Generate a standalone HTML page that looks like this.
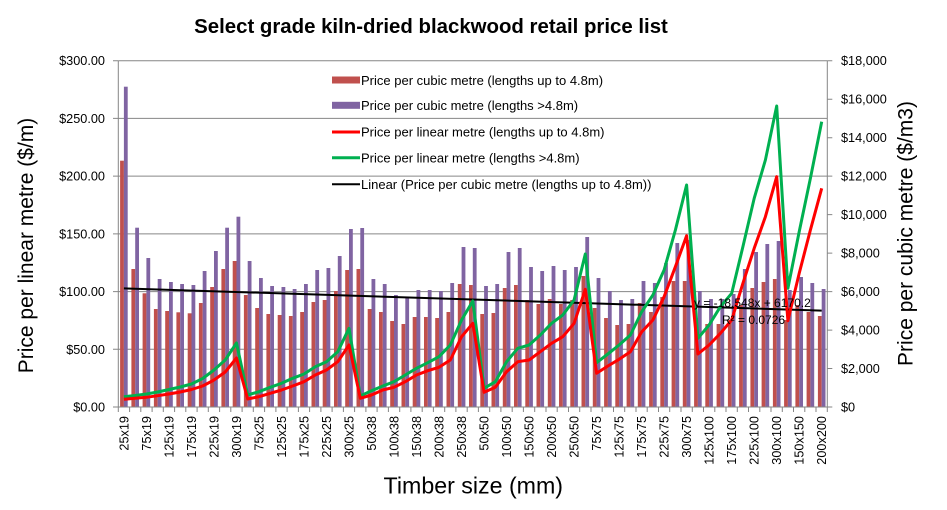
<!DOCTYPE html>
<html><head><meta charset="utf-8"><style>
html,body{margin:0;padding:0;background:#fff;}
svg{display:block;font-family:"Liberation Sans",Arial,sans-serif;}
</style></head><body>
<svg width="947" height="510" viewBox="0 0 947 510" xmlns="http://www.w3.org/2000/svg">
<rect width="947" height="510" fill="#fff"/>
<text x="431" y="33" font-size="20.4" font-weight="bold" text-anchor="middle" fill="#000">Select grade kiln-dried blackwood retail price list</text>
<!-- gridlines -->
<g stroke="#868686" stroke-width="1">
<line x1="118.3" y1="60.7" x2="827.3" y2="60.7"/>
<line x1="118.3" y1="118.4" x2="827.3" y2="118.4"/>
<line x1="118.3" y1="176.1" x2="827.3" y2="176.1"/>
<line x1="118.3" y1="233.9" x2="827.3" y2="233.9"/>
<line x1="118.3" y1="291.6" x2="827.3" y2="291.6"/>
<line x1="118.3" y1="349.3" x2="827.3" y2="349.3"/>
</g>
<!-- bars -->
<g fill="#C0504D">
<rect x="120.1" y="160.7" width="3.8" height="246.3"/><rect x="131.4" y="269" width="3.8" height="138"/><rect x="142.6" y="293.3" width="3.8" height="113.7"/><rect x="153.9" y="309" width="3.8" height="98"/><rect x="165.2" y="311" width="3.8" height="96"/><rect x="176.4" y="312.3" width="3.8" height="94.7"/><rect x="187.7" y="313.3" width="3.8" height="93.7"/><rect x="198.9" y="303" width="3.8" height="104"/><rect x="210.2" y="287" width="3.8" height="120"/><rect x="221.4" y="269" width="3.8" height="138"/><rect x="232.7" y="261" width="3.8" height="146"/><rect x="243.9" y="295" width="3.8" height="112"/><rect x="255.2" y="308" width="3.8" height="99"/><rect x="266.4" y="314" width="3.8" height="93"/><rect x="277.7" y="315" width="3.8" height="92"/><rect x="288.9" y="316" width="3.8" height="91"/><rect x="300.2" y="312" width="3.8" height="95"/><rect x="311.5" y="302" width="3.8" height="105"/><rect x="322.7" y="300" width="3.8" height="107"/><rect x="334.0" y="291" width="3.8" height="116"/><rect x="345.2" y="270" width="3.8" height="137"/><rect x="356.5" y="269" width="3.8" height="138"/><rect x="367.7" y="309" width="3.8" height="98"/><rect x="379.0" y="312" width="3.8" height="95"/><rect x="390.2" y="321" width="3.8" height="86"/><rect x="401.5" y="324" width="3.8" height="83"/><rect x="412.7" y="317" width="3.8" height="90"/><rect x="424.0" y="317" width="3.8" height="90"/><rect x="435.2" y="318" width="3.8" height="89"/><rect x="446.5" y="312" width="3.8" height="95"/><rect x="457.8" y="284" width="3.8" height="123"/><rect x="469.0" y="285" width="3.8" height="122"/><rect x="480.3" y="314" width="3.8" height="93"/><rect x="491.5" y="313" width="3.8" height="94"/><rect x="502.8" y="288" width="3.8" height="119"/><rect x="514.0" y="285" width="3.8" height="122"/><rect x="525.3" y="300" width="3.8" height="107"/><rect x="536.5" y="304" width="3.8" height="103"/><rect x="547.8" y="299" width="3.8" height="108"/><rect x="559.0" y="304" width="3.8" height="103"/><rect x="570.3" y="300" width="3.8" height="107"/><rect x="581.5" y="276" width="3.8" height="131"/><rect x="592.8" y="308" width="3.8" height="99"/><rect x="604.1" y="318" width="3.8" height="89"/><rect x="615.3" y="325" width="3.8" height="82"/><rect x="626.6" y="324" width="3.8" height="83"/><rect x="637.8" y="303" width="3.8" height="104"/><rect x="649.1" y="312" width="3.8" height="95"/><rect x="660.3" y="297" width="3.8" height="110"/><rect x="671.6" y="281" width="3.8" height="126"/><rect x="682.8" y="281" width="3.8" height="126"/><rect x="694.1" y="318" width="3.8" height="89"/><rect x="705.3" y="324" width="3.8" height="83"/><rect x="716.6" y="324" width="3.8" height="83"/><rect x="727.9" y="320" width="3.8" height="87"/><rect x="739.1" y="305" width="3.8" height="102"/><rect x="750.4" y="288" width="3.8" height="119"/><rect x="761.6" y="282" width="3.8" height="125"/><rect x="772.9" y="279" width="3.8" height="128"/><rect x="784.1" y="320" width="3.8" height="87"/><rect x="795.4" y="305" width="3.8" height="102"/><rect x="806.6" y="312" width="3.8" height="95"/><rect x="817.9" y="316" width="3.8" height="91"/>
</g>
<g fill="#8064A2">
<rect x="123.9" y="86.7" width="3.8" height="320.3"/><rect x="135.2" y="227.7" width="3.8" height="179.3"/><rect x="146.4" y="258" width="3.8" height="149"/><rect x="157.7" y="279" width="3.8" height="128"/><rect x="169.0" y="282" width="3.8" height="125"/><rect x="180.2" y="284" width="3.8" height="123"/><rect x="191.5" y="285" width="3.8" height="122"/><rect x="202.7" y="271" width="3.8" height="136"/><rect x="214.0" y="251" width="3.8" height="156"/><rect x="225.2" y="227.7" width="3.8" height="179.3"/><rect x="236.5" y="216.7" width="3.8" height="190.3"/><rect x="247.7" y="261" width="3.8" height="146"/><rect x="259.0" y="278" width="3.8" height="129"/><rect x="270.2" y="286" width="3.8" height="121"/><rect x="281.5" y="287" width="3.8" height="120"/><rect x="292.7" y="289" width="3.8" height="118"/><rect x="304.0" y="284" width="3.8" height="123"/><rect x="315.3" y="270" width="3.8" height="137"/><rect x="326.5" y="268" width="3.8" height="139"/><rect x="337.8" y="256" width="3.8" height="151"/><rect x="349.0" y="229" width="3.8" height="178"/><rect x="360.3" y="228" width="3.8" height="179"/><rect x="371.5" y="279" width="3.8" height="128"/><rect x="382.8" y="284" width="3.8" height="123"/><rect x="394.0" y="295" width="3.8" height="112"/><rect x="405.3" y="298" width="3.8" height="109"/><rect x="416.5" y="290" width="3.8" height="117"/><rect x="427.8" y="290" width="3.8" height="117"/><rect x="439.0" y="291" width="3.8" height="116"/><rect x="450.3" y="283" width="3.8" height="124"/><rect x="461.6" y="247" width="3.8" height="160"/><rect x="472.8" y="248" width="3.8" height="159"/><rect x="484.1" y="286" width="3.8" height="121"/><rect x="495.3" y="284" width="3.8" height="123"/><rect x="506.6" y="252" width="3.8" height="155"/><rect x="517.8" y="248" width="3.8" height="159"/><rect x="529.1" y="267" width="3.8" height="140"/><rect x="540.3" y="271" width="3.8" height="136"/><rect x="551.6" y="266" width="3.8" height="141"/><rect x="562.8" y="270" width="3.8" height="137"/><rect x="574.1" y="267" width="3.8" height="140"/><rect x="585.3" y="237" width="3.8" height="170"/><rect x="596.6" y="278" width="3.8" height="129"/><rect x="607.9" y="291" width="3.8" height="116"/><rect x="619.1" y="300" width="3.8" height="107"/><rect x="630.4" y="299" width="3.8" height="108"/><rect x="641.6" y="281" width="3.8" height="126"/><rect x="652.9" y="283" width="3.8" height="124"/><rect x="664.1" y="263" width="3.8" height="144"/><rect x="675.4" y="243" width="3.8" height="164"/><rect x="686.6" y="240" width="3.8" height="167"/><rect x="697.9" y="291" width="3.8" height="116"/><rect x="709.1" y="299" width="3.8" height="108"/><rect x="720.4" y="299" width="3.8" height="108"/><rect x="731.7" y="294" width="3.8" height="113"/><rect x="742.9" y="269" width="3.8" height="138"/><rect x="754.2" y="252" width="3.8" height="155"/><rect x="765.4" y="244" width="3.8" height="163"/><rect x="776.7" y="241" width="3.8" height="166"/><rect x="787.9" y="290" width="3.8" height="117"/><rect x="799.2" y="277" width="3.8" height="130"/><rect x="810.4" y="283" width="3.8" height="124"/><rect x="821.7" y="289" width="3.8" height="118"/>
</g>
<!-- axes -->
<g stroke="#868686" stroke-width="1" fill="none">
<line x1="118.3" y1="60.7" x2="118.3" y2="407"/>
<line x1="827.3" y1="60.7" x2="827.3" y2="407"/>
<line x1="118.3" y1="407" x2="827.3" y2="407"/>
<path d="M113 60.7h5.3M113 118.4h5.3M113 176.1h5.3M113 233.9h5.3M113 291.6h5.3M113 349.3h5.3M113 407h5.3"/>
<path d="M827.3 60.7h5M827.3 99.2h5M827.3 137.7h5M827.3 176.1h5M827.3 214.6h5M827.3 253.1h5M827.3 291.6h5M827.3 330.1h5M827.3 368.5h5M827.3 407h5"/>
<path d="M118.3 407v5M129.6 407v5M140.8 407v5M152.1 407v5M163.3 407v5M174.6 407v5M185.8 407v5M197.1 407v5M208.3 407v5M219.6 407v5M230.8 407v5M242.1 407v5M253.3 407v5M264.6 407v5M275.9 407v5M287.1 407v5M298.4 407v5M309.6 407v5M320.9 407v5M332.1 407v5M343.4 407v5M354.6 407v5M365.9 407v5M377.1 407v5M388.4 407v5M399.7 407v5M410.9 407v5M422.2 407v5M433.4 407v5M444.7 407v5M455.9 407v5M467.2 407v5M478.4 407v5M489.7 407v5M500.9 407v5M512.2 407v5M523.4 407v5M534.7 407v5M546.0 407v5M557.2 407v5M568.5 407v5M579.7 407v5M591.0 407v5M602.2 407v5M613.5 407v5M624.7 407v5M636.0 407v5M647.2 407v5M658.5 407v5M669.7 407v5M681.0 407v5M692.3 407v5M703.5 407v5M714.8 407v5M726.0 407v5M737.3 407v5M748.5 407v5M759.8 407v5M771.0 407v5M782.3 407v5M793.5 407v5M804.8 407v5M816.0 407v5M827.3 407v5"/>
</g>
<!-- trendline -->
<line x1="123.9" y1="288.4" x2="821.7" y2="310.6" stroke="#000" stroke-width="2"/>
<!-- lines -->
<polyline fill="none" stroke="#00B050" stroke-width="3" stroke-linejoin="round" points="123.9,396.7 135.2,395.5 146.4,394 157.7,392 169.0,389.5 180.2,387 191.5,384 202.7,378.5 214.0,370 225.2,360 236.5,343 247.7,395 259.0,391.7 270.2,387.3 281.5,383.3 292.7,378.3 304.0,374 315.3,366.7 326.5,361.7 337.8,351.7 349.0,328.3 360.3,396 371.5,390.7 382.8,386 394.0,381.7 405.3,375 416.5,368.3 427.8,362.7 439.0,356.7 450.3,345 461.6,320 472.8,301 484.1,388.3 495.3,381.7 506.6,361.7 517.8,348.3 529.1,345 540.3,335 551.6,323.3 562.8,315 574.1,300 585.3,254 596.6,362.7 607.9,354 619.1,345 630.4,335 641.6,312 652.9,295 664.1,270 675.4,230 686.6,185 697.9,338.3 709.1,325 720.4,306.7 731.7,293.3 742.9,246.7 754.2,198.3 765.4,160 776.7,106 787.9,288.3 799.2,231.7 810.4,178.3 821.7,121.7"/>
<polyline fill="none" stroke="#FF0000" stroke-width="3" stroke-linejoin="round" points="123.9,399.3 135.2,398.3 146.4,397.3 157.7,395.7 169.0,394 180.2,392 191.5,389.5 202.7,386 214.0,380 225.2,372 236.5,358 247.7,399 259.0,396.7 270.2,393.3 281.5,390 292.7,386 304.0,381.7 315.3,375 326.5,370 337.8,361.7 349.0,345 360.3,398.3 371.5,395 382.8,390 394.0,387.3 405.3,381.7 416.5,375 427.8,370.7 439.0,367.3 450.3,360 461.6,336.7 472.8,323.3 484.1,392.3 495.3,387.3 506.6,371.7 517.8,361.7 529.1,360 540.3,351.7 551.6,343.3 562.8,336.7 574.1,323.3 585.3,289.3 596.6,373.3 607.9,366 619.1,359.3 630.4,351.7 641.6,332 652.9,320 664.1,296.7 675.4,266.7 686.6,235.7 697.9,354 709.1,345 720.4,333.3 731.7,320 742.9,283.3 754.2,248.3 765.4,216.7 776.7,176.7 787.9,320.7 799.2,273.3 810.4,230 821.7,188.3"/>
<!-- trend labels -->
<text x="694" y="307" font-size="12" fill="#000">y = -18.548x + 6170.2</text>
<text x="722" y="324" font-size="12" fill="#000">R² = 0.0726</text>
<!-- left tick labels -->
<g font-size="12.7" text-anchor="end" fill="#000">
<text x="105" y="65.2">$300.00</text>
<text x="105" y="122.9">$250.00</text>
<text x="105" y="180.6">$200.00</text>
<text x="105" y="238.4">$150.00</text>
<text x="105" y="296.1">$100.00</text>
<text x="105" y="353.8">$50.00</text>
<text x="105" y="411.5">$0.00</text>
</g>
<g font-size="12.7" fill="#000">
<text x="841" y="65.2">$18,000</text>
<text x="841" y="103.7">$16,000</text>
<text x="841" y="142.2">$14,000</text>
<text x="841" y="180.6">$12,000</text>
<text x="841" y="219.1">$10,000</text>
<text x="841" y="257.6">$8,000</text>
<text x="841" y="296.1">$6,000</text>
<text x="841" y="334.6">$4,000</text>
<text x="841" y="373">$2,000</text>
<text x="841" y="411.5">$0</text>
</g>
<!-- x labels -->
<g font-size="12.7" text-anchor="end" fill="#000">
<text transform="translate(128.4,416) rotate(-90)">25x19</text>
<text transform="translate(150.9,416) rotate(-90)">75x19</text>
<text transform="translate(173.5,416) rotate(-90)">125x19</text>
<text transform="translate(196.0,416) rotate(-90)">175x19</text>
<text transform="translate(218.5,416) rotate(-90)">225x19</text>
<text transform="translate(241.0,416) rotate(-90)">300x19</text>
<text transform="translate(263.5,416) rotate(-90)">75x25</text>
<text transform="translate(286.0,416) rotate(-90)">125x25</text>
<text transform="translate(308.5,416) rotate(-90)">175x25</text>
<text transform="translate(331.0,416) rotate(-90)">225x25</text>
<text transform="translate(353.5,416) rotate(-90)">300x25</text>
<text transform="translate(376.0,416) rotate(-90)">50x38</text>
<text transform="translate(398.5,416) rotate(-90)">100x38</text>
<text transform="translate(421.0,416) rotate(-90)">150x38</text>
<text transform="translate(443.5,416) rotate(-90)">200x38</text>
<text transform="translate(466.1,416) rotate(-90)">250x38</text>
<text transform="translate(488.6,416) rotate(-90)">50x50</text>
<text transform="translate(511.1,416) rotate(-90)">100x50</text>
<text transform="translate(533.6,416) rotate(-90)">150x50</text>
<text transform="translate(556.1,416) rotate(-90)">200x50</text>
<text transform="translate(578.6,416) rotate(-90)">250x50</text>
<text transform="translate(601.1,416) rotate(-90)">75x75</text>
<text transform="translate(623.6,416) rotate(-90)">125x75</text>
<text transform="translate(646.1,416) rotate(-90)">175x75</text>
<text transform="translate(668.6,416) rotate(-90)">225x75</text>
<text transform="translate(691.1,416) rotate(-90)">300x75</text>
<text transform="translate(713.6,416) rotate(-90)">125x100</text>
<text transform="translate(736.2,416) rotate(-90)">175x100</text>
<text transform="translate(758.7,416) rotate(-90)">225x100</text>
<text transform="translate(781.2,416) rotate(-90)">300x100</text>
<text transform="translate(803.7,416) rotate(-90)">150x150</text>
<text transform="translate(826.2,416) rotate(-90)">200x200</text>
</g>
<!-- axis titles -->
<text transform="translate(33,245.5) rotate(-90)" font-size="21" text-anchor="middle" fill="#000">Price per linear metre ($/m)</text>
<text transform="translate(912.7,233.5) rotate(-90)" font-size="21" text-anchor="middle" fill="#000">Price per cubic metre ($/m3)</text>
<text x="473.3" y="493.3" font-size="23.2" text-anchor="middle" fill="#000">Timber size (mm)</text>
<!-- legend -->
<rect x="332" y="76.5" width="28" height="7" fill="#C0504D"/>
<rect x="332" y="101.8" width="28" height="7" fill="#8064A2"/>
<line x1="332" y1="132" x2="360" y2="132" stroke="#FF0000" stroke-width="3"/>
<line x1="332" y1="157.7" x2="360" y2="157.7" stroke="#00B050" stroke-width="3"/>
<line x1="332" y1="184.3" x2="360" y2="184.3" stroke="#000" stroke-width="2"/>
<g font-size="13" fill="#000">
<text x="361" y="84.8">Price per cubic metre (lengths up to 4.8m)</text>
<text x="361" y="110">Price per cubic metre (lengths &gt;4.8m)</text>
<text x="361" y="136.6">Price per linear metre (lengths up to 4.8m)</text>
<text x="361" y="162.3">Price per linear metre (lengths &gt;4.8m)</text>
<text x="361" y="188.9">Linear (Price per cubic metre (lengths up to 4.8m))</text>
</g>
</svg>
</body></html>
